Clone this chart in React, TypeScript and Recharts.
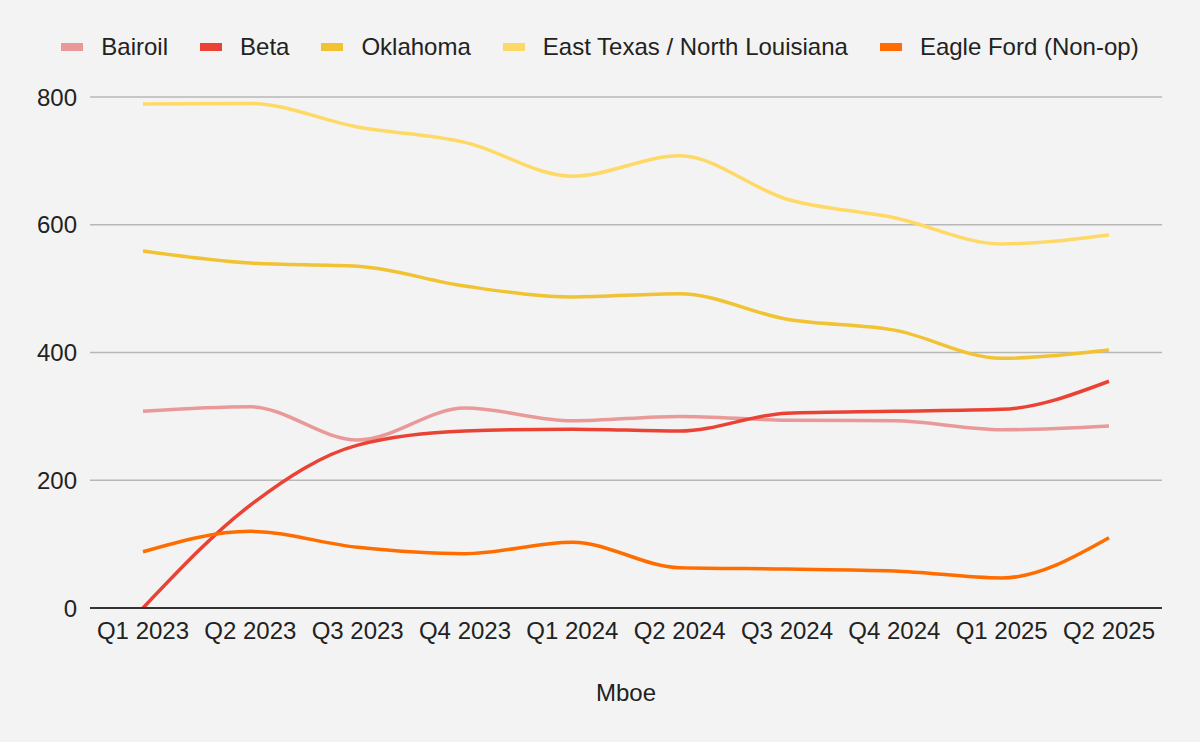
import React from "react";
import { LineChart, Line, XAxis, YAxis, CartesianGrid, Legend, Label } from "recharts";

const quarters = [
  "Q1 2023", "Q2 2023", "Q3 2023", "Q4 2023", "Q1 2024",
  "Q2 2024", "Q3 2024", "Q4 2024", "Q1 2025", "Q2 2025",
];

const bairoil = [308, 315, 263, 313, 293, 300, 294, 293, 279, 285];
const beta = [0, 161, 255, 277, 280, 277, 305, 308, 311, 355];
const oklahoma = [559, 540, 535, 504, 487, 492, 452, 435, 391, 404];
const eastTexas = [789, 790, 753, 729, 676, 708, 640, 611, 570, 584];
const eagleFord = [88, 120, 95, 85, 103, 63, 61, 58, 47, 110];

const yTicks = [0, 200, 400, 600, 800];

const series = [
  { key: "bairoil", name: "Bairoil", color: "#ea9999" },
  { key: "beta", name: "Beta", color: "#ea4335" },
  { key: "oklahoma", name: "Oklahoma", color: "#f1c232" },
  { key: "eastTexas", name: "East Texas / North Louisiana", color: "#ffd966" },
  { key: "eagleFord", name: "Eagle Ford (Non-op)", color: "#ff6d01" },
];

const data = quarters.map((q, i) => ({
  quarter: q,
  bairoil: bairoil[i],
  beta: beta[i],
  oklahoma: oklahoma[i],
  eastTexas: eastTexas[i],
  eagleFord: eagleFord[i],
}));

const font = "'Liberation Sans', Arial, sans-serif";

function LegendRow() {
  return (
    <div style={{ display: "flex", justifyContent: "center", alignItems: "center", fontFamily: font, fontSize: 24, color: "#222" }}>
      {series.map((s, i) => (
        <div key={s.key} style={{ display: "flex", alignItems: "center", marginLeft: i === 0 ? 0 : 32 }}>
          <span style={{ display: "inline-block", width: 22, height: 8, background: s.color, marginRight: 18 }} />
          <span>{s.name}</span>
        </div>
      ))}
    </div>
  );
}

export default function App() {
  return (
    <div style={{ position: "absolute", left: 0, top: 0, width: 1200, height: 742, background: "#f3f3f3" }}>
      <LineChart width={1200} height={742} data={data} margin={{ top: 69, right: 38, bottom: 0, left: 0 }}>
        <CartesianGrid vertical={false} stroke="#b7b7b7" strokeWidth={1.5} />
        <XAxis
          dataKey="quarter"
          height={134}
          padding={{ left: 53, right: 53 }}
          tickLine={false}
          axisLine={{ stroke: "#333", strokeWidth: 2 }}
          tickMargin={8}
          tick={{ fill: "#222", fontSize: 24, fontFamily: font }}
          interval={0}
        >
          <Label value="Mboe" position="insideBottom" offset={41} fill="#222" fontSize={24} fontFamily={font} />
        </XAxis>
        <YAxis
          width={90}
          domain={[0, 800]}
          ticks={yTicks}
          axisLine={false}
          tickLine={false}
          tickMargin={7}
          tick={{ fill: "#222", fontSize: 24, fontFamily: font }}
        />
        <Legend verticalAlign="top" content={() => <LegendRow />} wrapperStyle={{ top: 33, left: 0, width: 1200 }} />
        {series.map((s) => (
          <Line
            key={s.key}
            type="monotone"
            dataKey={s.key}
            name={s.name}
            stroke={s.color}
            strokeWidth={3.5}
            dot={false}
            activeDot={false}
            isAnimationActive={false}
          />
        ))}
      </LineChart>
    </div>
  );
}
